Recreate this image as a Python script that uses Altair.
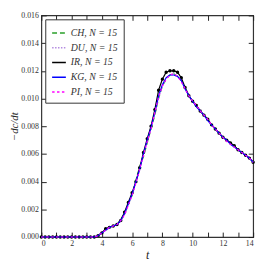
import altair as alt
import pandas as pd

t_vals = [0, 0.25, 0.5, 0.75, 1, 1.25, 1.5, 1.75, 2, 2.25, 2.5, 2.75, 3, 3.25, 3.5,
          3.75, 4, 4.25, 4.5, 4.75, 5, 5.25, 5.5, 5.75, 6, 6.25, 6.5, 6.75, 7, 7.25,
          7.5, 7.75, 8, 8.25, 8.5, 8.75, 9, 9.25, 9.5, 9.75, 10, 10.25, 10.5, 10.75,
          11, 11.25, 11.5, 11.75, 12, 12.25, 12.5, 12.75, 13, 13.25, 13.5, 13.75, 14]

zeros = [0.0] * 15

ch = zeros + [0.0001, 0.0003, 0.0005, 0.0007, 0.0008, 0.0009, 0.0013, 0.0017, 0.0024, 0.0030,
              0.0041, 0.0051, 0.0058, 0.0068, 0.0078, 0.0088, 0.0100, 0.0109, 0.0114, 0.0117,
              0.0118, 0.0116, 0.0113, 0.0108, 0.0102, 0.0098, 0.0095, 0.0091, 0.0088, 0.0085,
              0.0081, 0.0078, 0.0075, 0.0072, 0.0070, 0.0068, 0.0066, 0.0063, 0.0061, 0.0059,
              0.0057, 0.0054]
du = zeros + [0.0001, 0.0003, 0.0005, 0.0006, 0.0008, 0.0009, 0.0011, 0.0016, 0.0023, 0.0031,
              0.0039, 0.0048, 0.0060, 0.0069, 0.0079, 0.0089, 0.0101, 0.0109, 0.0115, 0.0117,
              0.0117, 0.0116, 0.0113, 0.0108, 0.0103, 0.0098, 0.0095, 0.0092, 0.0088, 0.0085,
              0.0081, 0.0078, 0.0075, 0.0072, 0.0070, 0.0068, 0.0065, 0.0063, 0.0061, 0.0059,
              0.0057, 0.0054]
ir = zeros + [0.0001, 0.0003, 0.0006, 0.0007, 0.0008, 0.0009, 0.0012, 0.0018, 0.0025, 0.0032,
              0.0040, 0.0050, 0.0061, 0.0071, 0.0080, 0.0092, 0.0106, 0.0114, 0.0119, 0.0120,
              0.0120, 0.0119, 0.0115, 0.0108, 0.0102, 0.0098, 0.0095, 0.0091, 0.0088, 0.0085,
              0.0081, 0.0078, 0.0075, 0.0072, 0.0070, 0.0068, 0.0066, 0.0063, 0.0061, 0.0059,
              0.0057, 0.0054]
kg = zeros + [0.0001, 0.0003, 0.0005, 0.0007, 0.0008, 0.0009, 0.0012, 0.0017, 0.0024, 0.0031,
              0.0040, 0.0049, 0.0060, 0.0070, 0.0079, 0.0090, 0.0102, 0.0110, 0.0115, 0.0117,
              0.0117, 0.0116, 0.0113, 0.0107, 0.0102, 0.0098, 0.0094, 0.0091, 0.0088, 0.0084,
              0.0081, 0.0078, 0.0075, 0.0072, 0.0070, 0.0067, 0.0065, 0.0063, 0.0061, 0.0059,
              0.0057, 0.0054]
pi = zeros + [0.0001, 0.0003, 0.0005, 0.0007, 0.0008, 0.0009, 0.0012, 0.0016, 0.0023, 0.0030,
              0.0039, 0.0049, 0.0059, 0.0069, 0.0078, 0.0090, 0.0101, 0.0109, 0.0114, 0.0117,
              0.0118, 0.0116, 0.0112, 0.0107, 0.0102, 0.0098, 0.0095, 0.0091, 0.0088, 0.0085,
              0.0081, 0.0078, 0.0075, 0.0072, 0.0069, 0.0067, 0.0065, 0.0063, 0.0061, 0.0059,
              0.0057, 0.0054]

series_names = ["CH, N = 15", "DU, N = 15", "IR, N = 15", "KG, N = 15", "PI, N = 15"]
series_vals = [ch, du, ir, kg, pi]
series_colors = ["#2aa02a", "#b48ce0", "#000000", "#0000ff", "#ff00ff"]
series_dash = [[5, 3], [1.5, 1.5], [1, 0], [1, 0], [2.5, 2.5]]

x_ticks = list(range(0, 15))
y_ticks = [0.0, 0.002, 0.004, 0.006, 0.008, 0.010, 0.012, 0.014, 0.016]

rows = []
for name, vals in zip(series_names, series_vals):
    for tv, v in zip(t_vals, vals):
        rows.append({"t": tv, "v": v, "s": name})
df = pd.DataFrame(rows)

W, H = 216, 226
FONT = "Liberation Serif"

xscale = alt.Scale(domain=[0, 14], nice=False, zero=False)
yscale = alt.Scale(domain=[0, 0.016], nice=False)

leg = dict(orient="top-left", offset=4, title=None, fillColor="white",
           strokeColor="#333", padding=6, symbolType="stroke", symbolSize=196,
           symbolStrokeWidth=1.5, labelFont=FONT, labelFontStyle="italic",
           labelFontSize=10, labelColor="#333", rowPadding=2)

base = alt.Chart(df)

lines = base.mark_line(strokeWidth=1.2).encode(
    x=alt.X("t:Q", scale=xscale, axis=alt.Axis(
        values=x_ticks, labelExpr="datum.value % 2 == 0 ? datum.label : ''",
        ticks=False, domain=False, grid=False, title="t", labelFont=FONT,
        labelFontSize=8, labelColor="#333", labelPadding=3, titleFont=FONT,
        titleFontStyle="italic", titleFontWeight="normal", titleFontSize=12,
        titlePadding=2, titleColor="#222")),
    y=alt.Y("v:Q", scale=yscale, axis=alt.Axis(
        values=y_ticks, format=".3f", ticks=False, domain=False, grid=False,
        title="−dc/dt", labelFont=FONT, labelFontSize=8, labelColor="#333",
        labelPadding=3, titleFont=FONT, titleFontStyle="italic",
        titleFontWeight="normal", titleFontSize=11, titlePadding=1, titleColor="#222")),
    color=alt.Color("s:N", scale=alt.Scale(domain=series_names, range=series_colors),
                    legend=alt.Legend(**leg)),
    strokeDash=alt.StrokeDash("s:N", scale=alt.Scale(domain=series_names, range=series_dash),
                              legend=alt.Legend(**leg)),
)

points = base.transform_filter(alt.datum.s == "IR, N = 15").mark_point(
    filled=True, size=12, color="black", opacity=1).encode(
    x=alt.X("t:Q", scale=xscale, axis=alt.Axis(
        orient="top", offset=-H, values=x_ticks, labels=False, domain=False,
        ticks=True, tickSize=5, tickWidth=1, tickColor="#222", grid=False, title=None)),
    y=alt.Y("v:Q", scale=yscale, axis=alt.Axis(
        orient="right", offset=-W, values=y_ticks, labels=False, domain=False,
        ticks=True, tickSize=5, tickWidth=1, tickColor="#222", grid=False, title=None)),
)

ticks2 = base.mark_point(opacity=0).encode(
    x=alt.X("t:Q", scale=xscale, axis=alt.Axis(
        orient="bottom", offset=-H, values=x_ticks, labels=False, domain=False,
        ticks=True, tickSize=5, tickWidth=1, tickColor="#222", grid=False, title=None)),
    y=alt.Y("v:Q", scale=yscale, axis=alt.Axis(
        orient="left", offset=-W, values=y_ticks, labels=False, domain=False,
        ticks=True, tickSize=5, tickWidth=1, tickColor="#222", grid=False, title=None)),
)

chart = alt.layer(ticks2, points, lines).resolve_axis(
    x="independent", y="independent"
).resolve_scale(x="shared", y="shared").properties(
    width=W, height=H,
    autosize=alt.AutoSizeParams(type="none"),
    padding={"left": 34, "top": 5, "right": 8, "bottom": 28},
).configure_view(stroke="#333", strokeWidth=1.2)

chart.save("out.html", embed_options={"renderer": "svg", "actions": False})
